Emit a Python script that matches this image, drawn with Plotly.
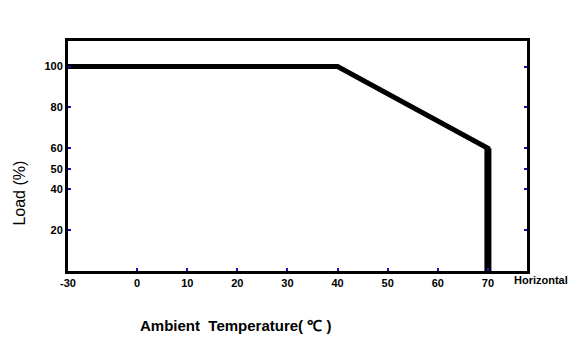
import plotly.graph_objects as go

# Data
temperature = [-30, 40, 70, 70]
load = [100, 100, 60, 0]
x_tick_labels = [-30, 0, 10, 20, 30, 40, 50, 60, 70]
y_tick_labels = [20, 40, 50, 60, 80, 100]

# axis scale: the -30..0 segment is drawn compressed
LEFT_SPAN = 13.8
def axis_x(t):
    return t if t >= 0 else t * LEFT_SPAN / 30.0

fig = go.Figure()
fig.add_trace(go.Scatter(
    x=[axis_x(t) for t in temperature], y=load, mode="lines",
    line=dict(color="black", width=5), showlegend=False,
))
# thicker vertical drop
fig.add_trace(go.Scatter(
    x=[axis_x(t) for t in temperature[2:]], y=load[2:], mode="lines",
    line=dict(color="black", width=7), showlegend=False,
))

tick_font = dict(family="Liberation Sans, Arial", size=11, color="black")
fig.update_layout(
    width=579, height=333,
    margin=dict(l=60, r=60, t=33, b=70),
    paper_bgcolor="white", plot_bgcolor="white",
    xaxis=dict(
        range=[-LEFT_SPAN, 77.8],
        tickvals=[axis_x(t) for t in x_tick_labels],
        ticktext=[f"<b>{t}</b>" for t in x_tick_labels],
        showgrid=False, zeroline=False,
        showline=True, linecolor="black", linewidth=3, mirror=True,
        ticks="inside", ticklen=3, tickcolor="#1010c0", tickwidth=2,
        tickfont=tick_font,
    ),
    yaxis=dict(
        range=[0, 112.5],
        tickvals=y_tick_labels,
        ticktext=[f"<b>{t}</b>" for t in y_tick_labels],
        showgrid=False, zeroline=False,
        showline=True, linecolor="black", linewidth=3, mirror="ticks",
        ticks="inside", ticklen=3, tickcolor="#1010c0", tickwidth=2,
        tickfont=tick_font,
    ),
    annotations=[
        dict(text="<b>Horizontal</b>", xref="paper", yref="paper",
             x=1.03, y=0, yshift=-9, xanchor="center", yanchor="middle",
             showarrow=False, font=tick_font),
        dict(text="Load (%)", xref="paper", yref="paper",
             x=-0.105, y=0.34, xanchor="center", yanchor="middle",
             textangle=-90, showarrow=False,
             font=dict(family="Liberation Sans, Arial", size=16, color="black")),
        dict(text="<b>Ambient  Temperature( ℃ )</b>", xref="paper", yref="paper",
             x=0.366, y=-0.235, xanchor="center", yanchor="middle",
             showarrow=False,
             font=dict(family="Liberation Sans, Arial", size=15, color="black")),
    ],
)

fig.write_html("out.html")
